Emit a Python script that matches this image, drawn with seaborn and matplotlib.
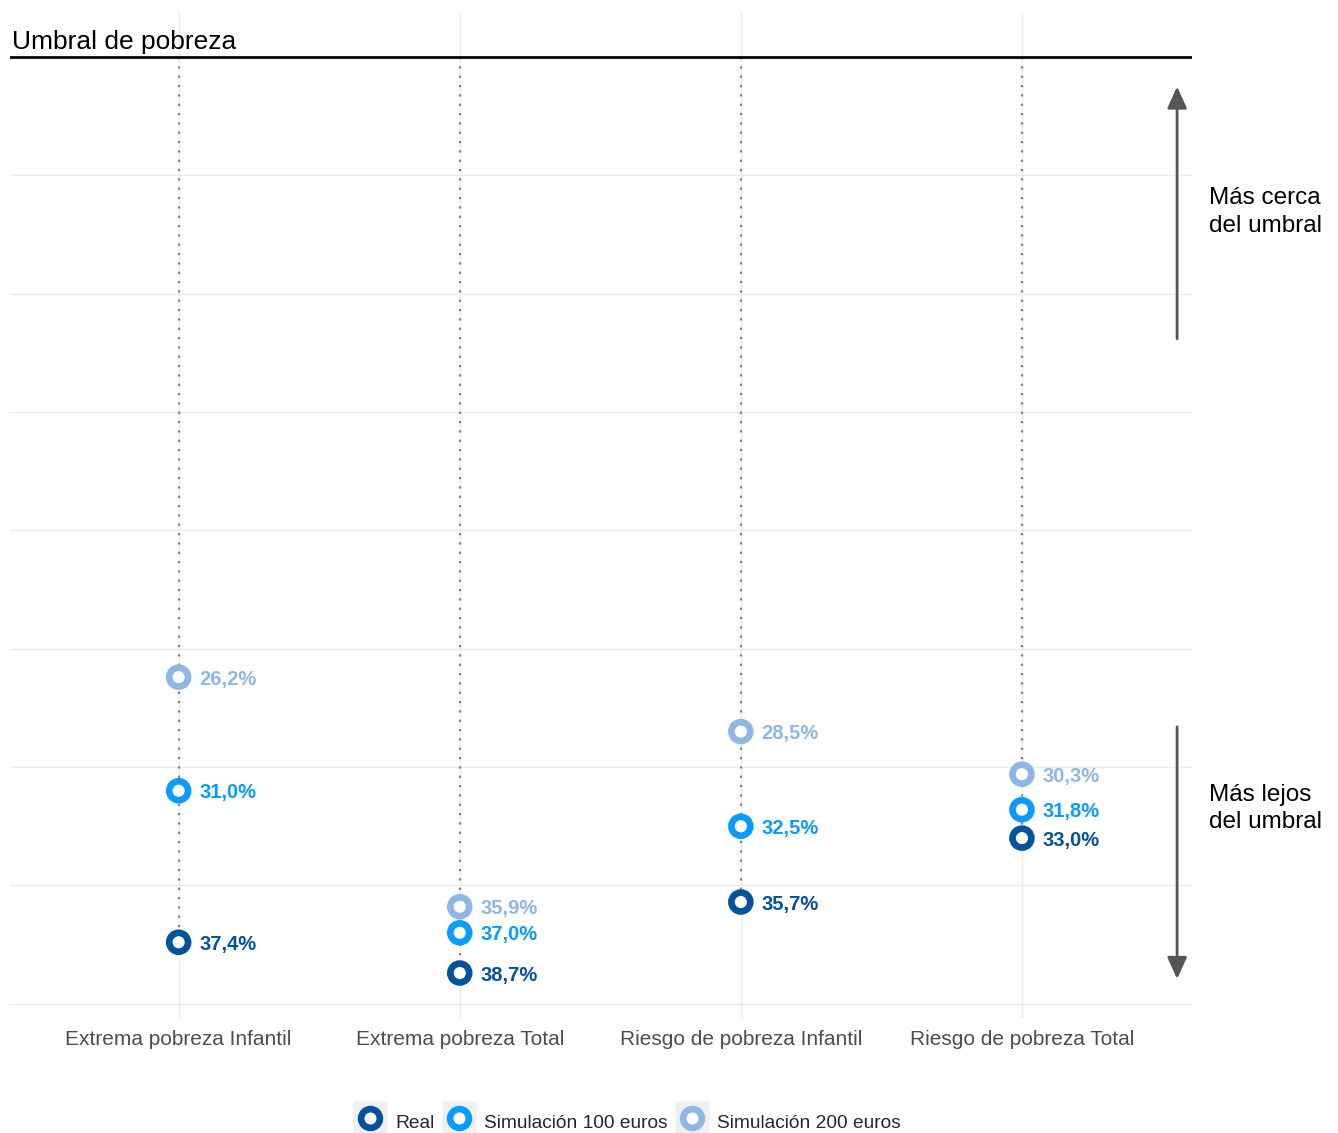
import matplotlib
matplotlib.use("Agg")
import matplotlib.pyplot as plt
from matplotlib.lines import Line2D
from matplotlib.legend_handler import HandlerTuple
import seaborn as sns
import pandas as pd

categorias = ["Extrema pobreza Infantil", "Extrema pobreza Total",
              "Riesgo de pobreza Infantil", "Riesgo de pobreza Total"]
real = [37.4, 38.7, 35.7, 33.0]
sim100 = [31.0, 37.0, 32.5, 31.8]
sim200 = [26.2, 35.9, 28.5, 30.3]
series = ["Real", "Simulación 100 euros", "Simulación 200 euros"]
colores = ["#03539c", "#0a9bff", "#8db8e6"]

rows = []
for s, vals in zip(series, [real, sim100, sim200]):
    for c, v in zip(categorias, vals):
        rows.append({"cat": c, "val": v, "serie": s})
df = pd.DataFrame(rows)

sns.set_theme(style="white")
plt.rcParams["font.family"] = ["Liberation Sans", "DejaVu Sans"]

fig = plt.figure(figsize=(13.38, 11.33), dpi=100)
ax = fig.add_axes([10/1338, 1 - 1018/1133, (1192-10)/1338, (1018-12)/1133])

# grid
for y in range(5, 41, 5):
    ax.axhline(y, color="#ebebeb", lw=1, zorder=0)
for i in range(len(categorias)):
    ax.axvline(i, color="#ebebeb", lw=1, zorder=0)

# dotted connectors from threshold to farthest point
maxs = df.groupby("cat", sort=False)["val"].max()
for i, c in enumerate(categorias):
    ax.plot([i, i], [0, maxs[c]], color="#808080", lw=1.6, ls=(0, (1, 3.2)), zorder=1)

sns.scatterplot(data=df, x="cat", y="val", hue="serie", hue_order=series,
                palette=colores, s=185, legend=False, ax=ax, zorder=3)
pts = ax.collections[-1]
fcs = pts.get_facecolors()
pts.set_edgecolors(fcs)
pts.set_facecolors("white")
pts.set_linewidths(4.8)

for s, col in zip(series, colores):
    sub = df[df.serie == s]
    for c, v in zip(sub.cat, sub.val):
        i = categorias.index(c)
        ax.annotate(f"{v:.1f}%".replace(".", ","), (i, v), xytext=(15, -1.5),
                    textcoords="offset points", va="center", ha="left",
                    color=col, fontsize=14.5, fontweight="bold", zorder=4)

# threshold line and title
ax.axhline(0, color="black", lw=2, zorder=2)
ax.text(-0.593, -0.33, "Umbral de pobreza", fontsize=19, color="black",
        ha="left", va="baseline")

# arrows
ax.annotate("", xy=(3.552, 1.25), xytext=(3.552, 11.9),
            arrowprops=dict(arrowstyle="-|>,head_length=1.1,head_width=0.5",
                            color="#555555", lw=2, shrinkA=0, shrinkB=0),
            annotation_clip=False)
ax.annotate("", xy=(3.552, 38.95), xytext=(3.552, 28.3),
            arrowprops=dict(arrowstyle="-|>,head_length=1.1,head_width=0.5",
                            color="#555555", lw=2, shrinkA=0, shrinkB=0),
            annotation_clip=False)
ax.text(3.665, 6.55, "Más cerca\ndel umbral", fontsize=17.5, color="black",
        ha="left", va="center", linespacing=1.32, clip_on=False)
ax.text(3.665, 31.75, "Más lejos\ndel umbral", fontsize=17.5, color="black",
        ha="left", va="center", linespacing=1.32, clip_on=False)

ax.set_xlim(-0.6, 3.605)
ax.set_ylim(40.6, -1.9)
ax.set_yticks([])
ax.set_xlabel("")
ax.set_ylabel("")
ax.tick_params(axis="x", length=0, pad=8.5, labelsize=15, labelcolor="#4d4d4d")
for sp in ax.spines.values():
    sp.set_visible(False)

handles = []
for col in colores:
    bg = Line2D([], [], marker="s", ls="none", markersize=24,
                markerfacecolor="#f0f0f0", markeredgecolor="none")
    mk = Line2D([], [], marker="o", ls="none", markersize=13.5,
                markerfacecolor="white", markeredgecolor=col, markeredgewidth=4.8)
    handles.append((bg, mk))
fig.legend(handles, series, loc="center", bbox_to_anchor=(0.4686, 0.0098),
           ncol=3, frameon=False, fontsize=13.8, handlelength=1.75,
           handleheight=1.75, handletextpad=0.45, columnspacing=0.4,
           handler_map={tuple: HandlerTuple(ndivide=1, pad=0)})

fig.savefig("out.png", dpi=100, facecolor="white")
